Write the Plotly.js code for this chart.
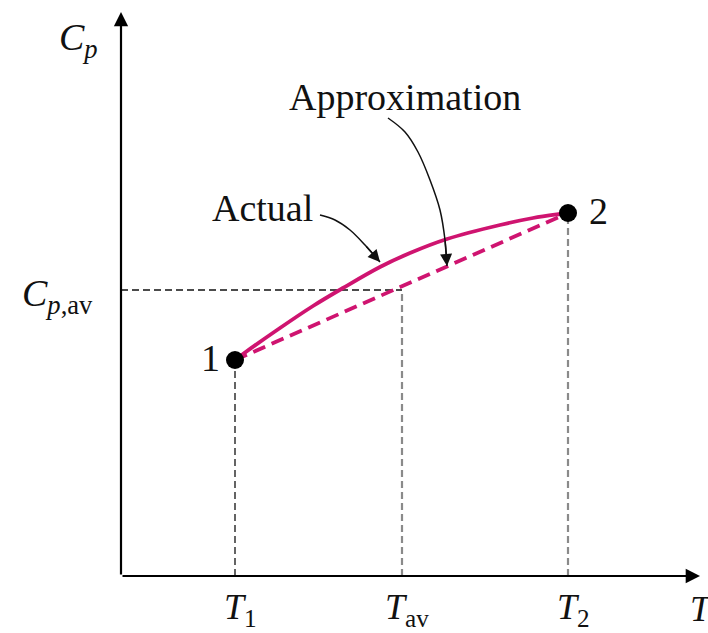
<!DOCTYPE html>
<html>
<head>
<meta charset="utf-8">
<script src="https://cdn.plot.ly/plotly-3.0.1.min.js"></script>
<style>html,body{margin:0;padding:0;background:#fff;}#chart{width:708px;height:633px;}</style>
</head>
<body>
<div id="chart"></div>
<script>
// Key values (T along x, Cp along y)
const T1 = 114, Tav = 281, T2 = 447;
const Cp1 = 216, CpAv = 286, Cp2 = 363;
const axisTipT = 579, axisTipCp = 564;

// Actual curve
const actualT  = [114, 122, 159, 192, 222, 259, 289, 326, 379, 412, 439, 447];
const actualCp = [216, 222, 248, 270, 288, 309, 323, 337, 351, 358, 362, 363];

// Approximation (straight line)
const approxT  = [T1, T2];
const approxCp = [Cp1, Cp2];

// Pointer curves for labels
const actPtrT  = [199, 214, 229, 244, 259];
const actPtrCp = [361, 356, 346, 331, 314];
const appPtrT  = [267, 284, 297, 309, 319, 324, 326];
const appPtrCp = [458, 444, 424, 396, 366, 336, 310];

// Labels
const tickT = [T1, Tav, T2, 575];
const tickLabels = ['<i>T</i><sub>1</sub>', '<i>T</i><sub>av</sub>', '<i>T</i><sub>2</sub>', '<i>T</i>'];

const magenta = '#cf1470';
const serif = 'Liberation Serif';

const traces = [
  {x:[0, Tav], y:[CpAv, CpAv], mode:'lines', line:{color:'#111', width:1.3, dash:'7px,4px'}},
  {x:[T1, T1], y:[0, Cp1], mode:'lines', line:{color:'#111', width:1.3, dash:'7px,4px'}},
  {x:[Tav, Tav], y:[0, CpAv], mode:'lines', line:{color:'#8a8a8a', width:2.2, dash:'7px,4px'}},
  {x:[T2, T2], y:[0, Cp2], mode:'lines', line:{color:'#8a8a8a', width:2.2, dash:'7px,4px'}},
  {x:approxT, y:approxCp, mode:'lines', line:{color:magenta, width:3.8, dash:'13px,7px'}},
  {x:actualT, y:actualCp, mode:'lines', line:{color:magenta, width:3.8, shape:'spline', smoothing:1}},
  {x:actPtrT, y:actPtrCp, mode:'lines', line:{color:'#111', width:1.5, shape:'spline'}},
  {x:appPtrT, y:appPtrCp, mode:'lines', line:{color:'#111', width:1.5, shape:'spline'}},
  {x:[T1, T2], y:[Cp1, Cp2], mode:'markers', marker:{color:'#000', size:18}}
];

const annotations = [
  // axes with arrowheads
  {x:0, y:axisTipCp, ax:0, ay:0, xref:'x', yref:'y', axref:'x', ayref:'y', text:'', showarrow:true, arrowhead:2, arrowsize:1.3, arrowwidth:2.2, arrowcolor:'#000'},
  {x:axisTipT, y:0, ax:0, ay:0, xref:'x', yref:'y', axref:'x', ayref:'y', text:'', showarrow:true, arrowhead:2, arrowsize:1.3, arrowwidth:2.2, arrowcolor:'#000'},
  // pointer heads
  {x:actPtrT[4], y:actPtrCp[4], ax:actPtrT[3], ay:actPtrCp[3], xref:'x', yref:'y', axref:'x', ayref:'y', text:'', showarrow:true, arrowhead:2, arrowsize:1.6, arrowwidth:1.5, arrowcolor:'#111'},
  {x:appPtrT[6], y:appPtrCp[6], ax:appPtrT[5], ay:appPtrCp[5], xref:'x', yref:'y', axref:'x', ayref:'y', text:'', showarrow:true, arrowhead:2, arrowsize:1.6, arrowwidth:1.5, arrowcolor:'#111'},
  // text labels
  {x:141, y:368, text:'Actual', showarrow:false, font:{family:serif, size:38, color:'#111'}},
  {x:284, y:479, text:'Approximation', showarrow:false, font:{family:serif, size:38, color:'#111'}},
  {x:89, y:218, text:'1', showarrow:false, font:{family:serif, size:38, color:'#111'}},
  {x:477, y:365, text:'2', showarrow:false, font:{family:serif, size:38, color:'#111'}},
  {x:-43, y:536, text:'<i>C<sub>p</sub></i>', showarrow:false, font:{family:serif, size:38, color:'#111'}},
  {x:-64, y:280, text:'<i>C<sub>p</sub></i><sub>,av</sub>', showarrow:false, font:{family:serif, size:38, color:'#111'}}
];
tickT.forEach((t, i) => {
  annotations.push({x:t + 5, y:-33, text:tickLabels[i], showarrow:false, font:{family:serif, size:36, color:'#111'}});
});

const layout = {
  width:708, height:633,
  margin:{l:0, r:0, t:0, b:0},
  paper_bgcolor:'#fff', plot_bgcolor:'#fff',
  showlegend:false,
  xaxis:{range:[-121, 587], visible:false, fixedrange:true},
  yaxis:{range:[-57, 576], visible:false, fixedrange:true},
  annotations:annotations
};

Plotly.newPlot('chart', traces, layout, {displayModeBar:false, staticPlot:true});
</script>
</body>
</html>
